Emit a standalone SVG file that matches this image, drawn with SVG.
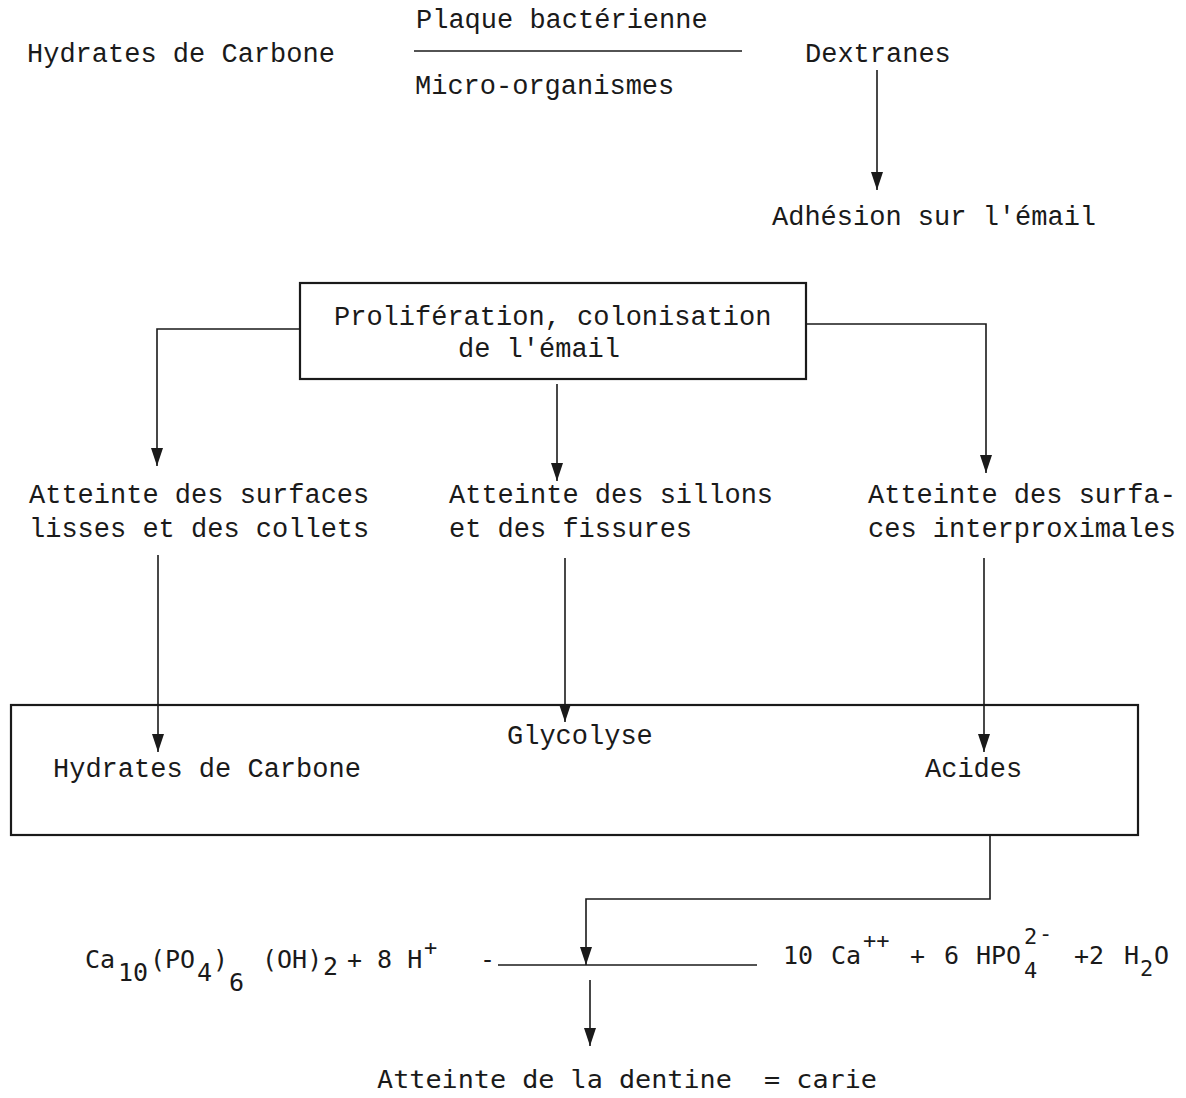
<svg xmlns="http://www.w3.org/2000/svg" width="1186" height="1098" viewBox="0 0 1186 1098">
<style>
.tw{font-family:"Liberation Mono","DejaVu Sans Mono",monospace;font-size:27px;fill:#1a1a1a}
.eq{font-family:"DejaVu Sans Mono","Liberation Mono",monospace;font-size:25px;fill:#1a1a1a;white-space:pre}
.sm{font-size:22px}
.ln{fill:none;stroke:#1a1a1a;stroke-width:1.6}
.bx{fill:none;stroke:#1a1a1a;stroke-width:2.2}
.ar{fill:none;stroke:#1a1a1a;stroke-width:1.6;marker-end:url(#ah)}
</style>
<defs>
<marker id="ah" markerUnits="userSpaceOnUse" viewBox="0 0 18 12" refX="18" refY="6" markerWidth="18" markerHeight="12" orient="auto">
<path d="M0,0 L18,6 L0,12 z" fill="#1a1a1a"/>
</marker>
</defs>
<rect width="1186" height="1098" fill="#ffffff"/>

<g id="hydrates-top"><text class="tw" x="27" y="62">Hydrates de Carbone</text></g>
<g id="plaque"><text class="tw" x="416" y="28">Plaque bactérienne</text></g>
<g id="micro"><text class="tw" x="415" y="94">Micro-organismes</text></g>
<g id="dextranes"><text class="tw" x="805" y="62">Dextranes</text></g>
<g id="adhesion"><text class="tw" x="772" y="225">Adhésion sur l'émail</text></g>

<g id="proliferation">
<rect class="bx" x="300" y="283" width="506" height="96"/>
<text class="tw" x="334" y="325">Prolifération, colonisation</text>
<text class="tw" x="458" y="357">de l'émail</text>
</g>

<g id="surfaces-lisses">
<text class="tw" x="29" y="503">Atteinte des surfaces</text>
<text class="tw" x="29" y="537">lisses et des collets</text>
</g>
<g id="sillons">
<text class="tw" x="449" y="503">Atteinte des sillons</text>
<text class="tw" x="449" y="537">et des fissures</text>
</g>
<g id="interproximales">
<text class="tw" x="868" y="503">Atteinte des surfa-</text>
<text class="tw" x="868" y="537">ces interproximales</text>
</g>

<g id="glycolyse-box">
<rect class="bx" x="11" y="705" width="1127" height="130"/>
<text class="tw" x="53" y="777">Hydrates de Carbone</text>
<text class="tw" x="507" y="744">Glycolyse</text>
<text class="tw" x="925" y="777">Acides</text>
</g>

<g id="equation-left">
<text class="eq" y="968"><tspan x="85">Ca</tspan><tspan x="118" y="981">10</tspan><tspan x="150" y="968">(PO</tspan><tspan x="197" y="981">4</tspan><tspan x="213" y="968">)</tspan><tspan x="229" y="991">6</tspan><tspan x="262" y="968">(OH)</tspan><tspan x="323" y="975">2</tspan><tspan x="347" y="968">+ 8 H</tspan><tspan class="sm" x="424" y="955">+</tspan><tspan x="480" y="968">-</tspan></text>
</g>
<g id="equation-right">
<text class="eq" y="964"><tspan x="783">10</tspan><tspan x="831">Ca</tspan><tspan class="sm" x="863" y="948">++</tspan><tspan x="910" y="964">+</tspan><tspan x="944">6</tspan><tspan x="976">HPO</tspan><tspan class="sm" x="1024" y="944">2</tspan><tspan class="sm" x="1024" y="978">4</tspan><tspan class="sm" x="1039" y="941">-</tspan><tspan x="1074" y="964">+2</tspan><tspan x="1124">H</tspan><tspan class="sm" x="1140" y="976">2</tspan><tspan x="1154" y="964">O</tspan></text>
</g>
<g id="dentine">
<text class="eq" x="377" y="1088" font-size="28" textLength="500" lengthAdjust="spacingAndGlyphs">Atteinte de la dentine  = carie</text>
</g>

<g id="connectors">
<path class="ln" d="M414 51 H742"/>
<path class="ar" d="M877 70 V190"/>
<path class="ar" d="M300 329 H157 V466"/>
<path class="ar" d="M557 384 V481"/>
<path class="ar" d="M806 324 H986 V473"/>
<path class="ar" d="M158 555 V752"/>
<path class="ar" d="M565 558 V722"/>
<path class="ar" d="M984 558 V752"/>
<path class="ar" d="M990 835 V899 H586 V965"/>
<path class="ln" d="M498 965 H757"/>
<path class="ar" d="M590 980 V1046"/>
</g>
</svg>
